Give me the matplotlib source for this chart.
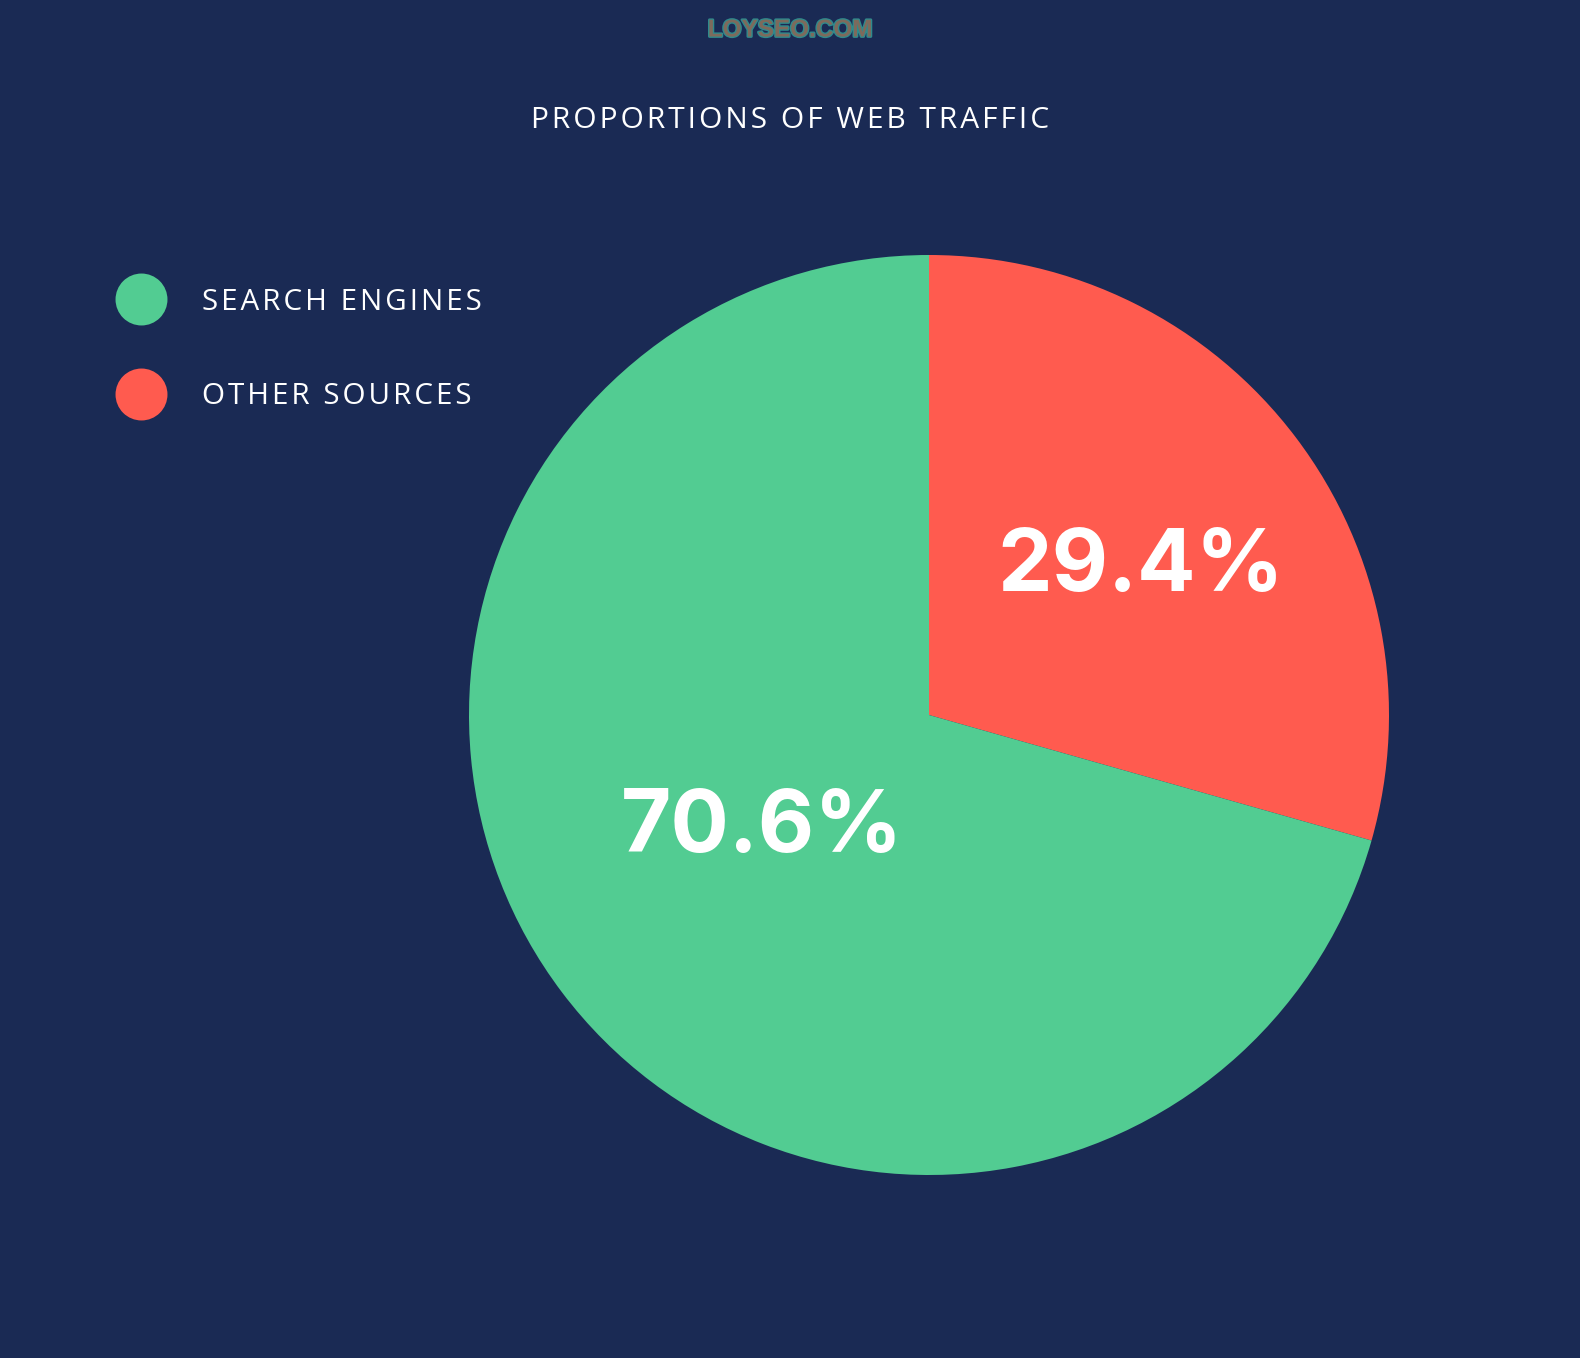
import matplotlib
matplotlib.use('Agg')
import matplotlib.pyplot as plt
import matplotlib.patheffects as pe
from matplotlib.lines import Line2D
import numpy as np

labels = ['OTHER SOURCES', 'SEARCH ENGINES']
values = [29.4, 70.6]
colors = ['#ff5b4f', '#52cc92']
legend_order = [1, 0]
label_dist = [0.56, 0.44]

bg = '#1a2a54'
W, H = 1580, 1358
HS = '\u200a'

def spaced(s):
    return HS.join(s)

fig = plt.figure(figsize=(W / 100, H / 100), dpi=100)
fig.patch.set_facecolor(bg)

cx, cy, r = 929, 643, 460
ax = fig.add_axes([(cx - r) / W, (cy - r) / H, 2 * r / W, 2 * r / H])
ax.set_facecolor(bg)

wedges, _ = ax.pie(values, colors=colors, startangle=90, counterclock=False,
                   wedgeprops=dict(linewidth=0))
ax.set_xlim(-1, 1)
ax.set_ylim(-1, 1)
ax.set_aspect('equal')
ax.axis('off')

for w, v, d in zip(wedges, values, label_dist):
    ang = np.deg2rad((w.theta1 + w.theta2) / 2 - 2.5)
    ax.text(d * np.cos(ang), d * np.sin(ang), f'{v}%', ha='center', va='center',
            color='white', fontsize=62.5, fontweight='bold', family='Inter')

fig.text(790 / W, 1 - 120 / H, spaced('PROPORTIONS OF WEB TRAFFIC'), ha='center',
         va='center', color='white', fontsize=21.5, family=['Open Sans', 'DejaVu Sans'])

wm = fig.text(790 / W, 1 - 30 / H, 'LOYSEO.COM', ha='center', va='center',
              color='#7d6a5c', fontsize=17.5, fontweight='bold', family='Liberation Sans')
wm.set_path_effects([pe.withStroke(linewidth=2, foreground='#2f8a8c')])

handles = [Line2D([], [], marker='o', linestyle='', markersize=37.4,
                  markerfacecolor=colors[i], markeredgewidth=0) for i in legend_order]
leg = fig.legend(handles, [spaced(labels[i]) for i in legend_order], loc='upper left',
                 bbox_to_anchor=(85 / W, 1 - 261 / H), frameon=False,
                 labelcolor='white', handletextpad=1.05, labelspacing=2.22,
                 prop=dict(family=['Open Sans', 'DejaVu Sans'], size=21.3))

fig.savefig('out.png', dpi=100, facecolor=bg)
